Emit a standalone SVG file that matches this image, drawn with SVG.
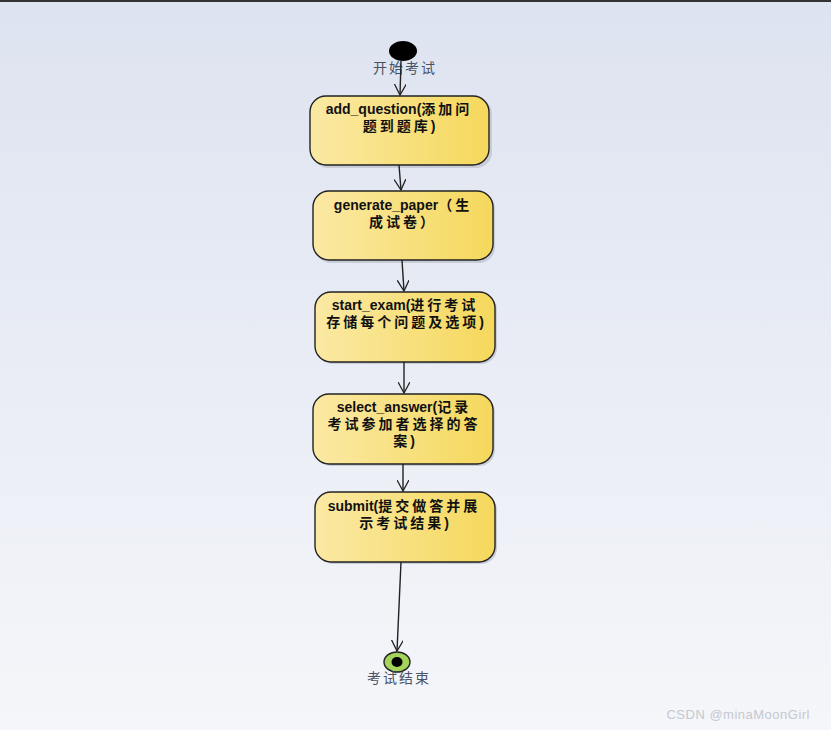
<svg xmlns="http://www.w3.org/2000/svg" width="831" height="730" viewBox="0 0 831 730">
<defs>
<linearGradient id="bg" x1="0" y1="0" x2="0" y2="1">
<stop offset="0" stop-color="#dde3f0"/>
<stop offset="1" stop-color="#f5f6fa"/>
</linearGradient>
<linearGradient id="nodefill" x1="0" y1="0" x2="1" y2="0">
<stop offset="0" stop-color="#fbe9a4"/>
<stop offset="1" stop-color="#f5d85c"/>
</linearGradient>
<marker id="arr" viewBox="0 0 12 12" refX="11" refY="6" markerWidth="12" markerHeight="12" markerUnits="userSpaceOnUse" orient="auto">
<path d="M0,0 L11,6 L0,12" fill="none" stroke="#222" stroke-width="1.3"/>
</marker>
</defs>
<style>
.node rect.sh{fill:#c8ccd6;stroke:none}
.node rect.b{fill:url(#nodefill);stroke:#222;stroke-width:1.4}
.node text{font-family:"Liberation Sans","Noto Sans CJK SC",sans-serif;font-weight:bold;font-size:14px;fill:#111;text-anchor:middle}
.node tspan.c{font-size:14px;letter-spacing:3px}
.lbl{font-family:"Liberation Serif","Noto Sans CJK SC",serif;font-size:14px;letter-spacing:2px;fill:#4a5263;text-anchor:middle}
.conn line{stroke:#222;stroke-width:1.4;marker-end:url(#arr)}
</style>
<rect width="831" height="730" fill="url(#bg)"/>
<rect width="831" height="2" fill="#333"/>
<g id="start">
<ellipse cx="403" cy="51" rx="14" ry="10" fill="#000"/>
<text class="lbl" x="405" y="73">开始考试</text>
</g>
<g id="n1" class="node">
<rect class="sh" x="312" y="98" width="180" height="70" rx="16"/>
<rect class="b" x="310" y="96" width="179" height="69" rx="16"/>
<text x="399" y="114">add_question(<tspan class="c">添加问</tspan></text>
<text x="399" y="131"><tspan class="c">题到题库</tspan>)</text>
</g>
<g id="n2" class="node">
<rect class="sh" x="315" y="193" width="180" height="70" rx="16"/>
<rect class="b" x="313" y="191" width="180" height="69" rx="16"/>
<text x="403" y="210">generate_paper<tspan class="c">（生</tspan></text>
<text x="403" y="227"><tspan class="c">成试卷）</tspan></text>
</g>
<g id="n3" class="node">
<rect class="sh" x="317" y="294" width="180" height="70" rx="16"/>
<rect class="b" x="315" y="292" width="180" height="70" rx="16"/>
<text x="405" y="310">start_exam(<tspan class="c">进行考试</tspan></text>
<text x="405" y="327"><tspan class="c">存储每个问题及选项</tspan>)</text>
</g>
<g id="n4" class="node">
<rect class="sh" x="315" y="396" width="180" height="70" rx="16"/>
<rect class="b" x="313" y="394" width="180" height="70" rx="16"/>
<text x="404" y="412">select_answer(<tspan class="c">记录</tspan></text>
<text x="404" y="429"><tspan class="c">考试参加者选择的答</tspan></text>
<text x="404" y="446"><tspan class="c">案</tspan>)</text>
</g>
<g id="n5" class="node">
<rect class="sh" x="317" y="494" width="180" height="70" rx="16"/>
<rect class="b" x="315" y="492" width="180" height="70" rx="16"/>
<text x="404" y="511">submit(<tspan class="c">提交做答并展</tspan></text>
<text x="404" y="528"><tspan class="c">示考试结果</tspan>)</text>
</g>
<g id="end">
<ellipse cx="397" cy="662" rx="13" ry="10" fill="#a5d45a" stroke="#222" stroke-width="1.4"/>
<ellipse cx="397" cy="662" rx="5.5" ry="5" fill="#000"/>
<text class="lbl" x="399" y="683">考试结束</text>
</g>
<g id="connectors" class="conn">
<line x1="401" y1="61" x2="400" y2="95"/>
<line x1="399" y1="165" x2="401" y2="190"/>
<line x1="402" y1="260" x2="404" y2="291"/>
<line x1="404" y1="362" x2="404" y2="393"/>
<line x1="403" y1="464" x2="403" y2="491"/>
<line x1="401" y1="562" x2="397" y2="651"/>
</g>
<text x="810" y="719" font-family="Liberation Sans,sans-serif" font-size="13" letter-spacing="0.5" fill="#c4c8d0" text-anchor="end">CSDN @minaMoonGirl</text>
</svg>
